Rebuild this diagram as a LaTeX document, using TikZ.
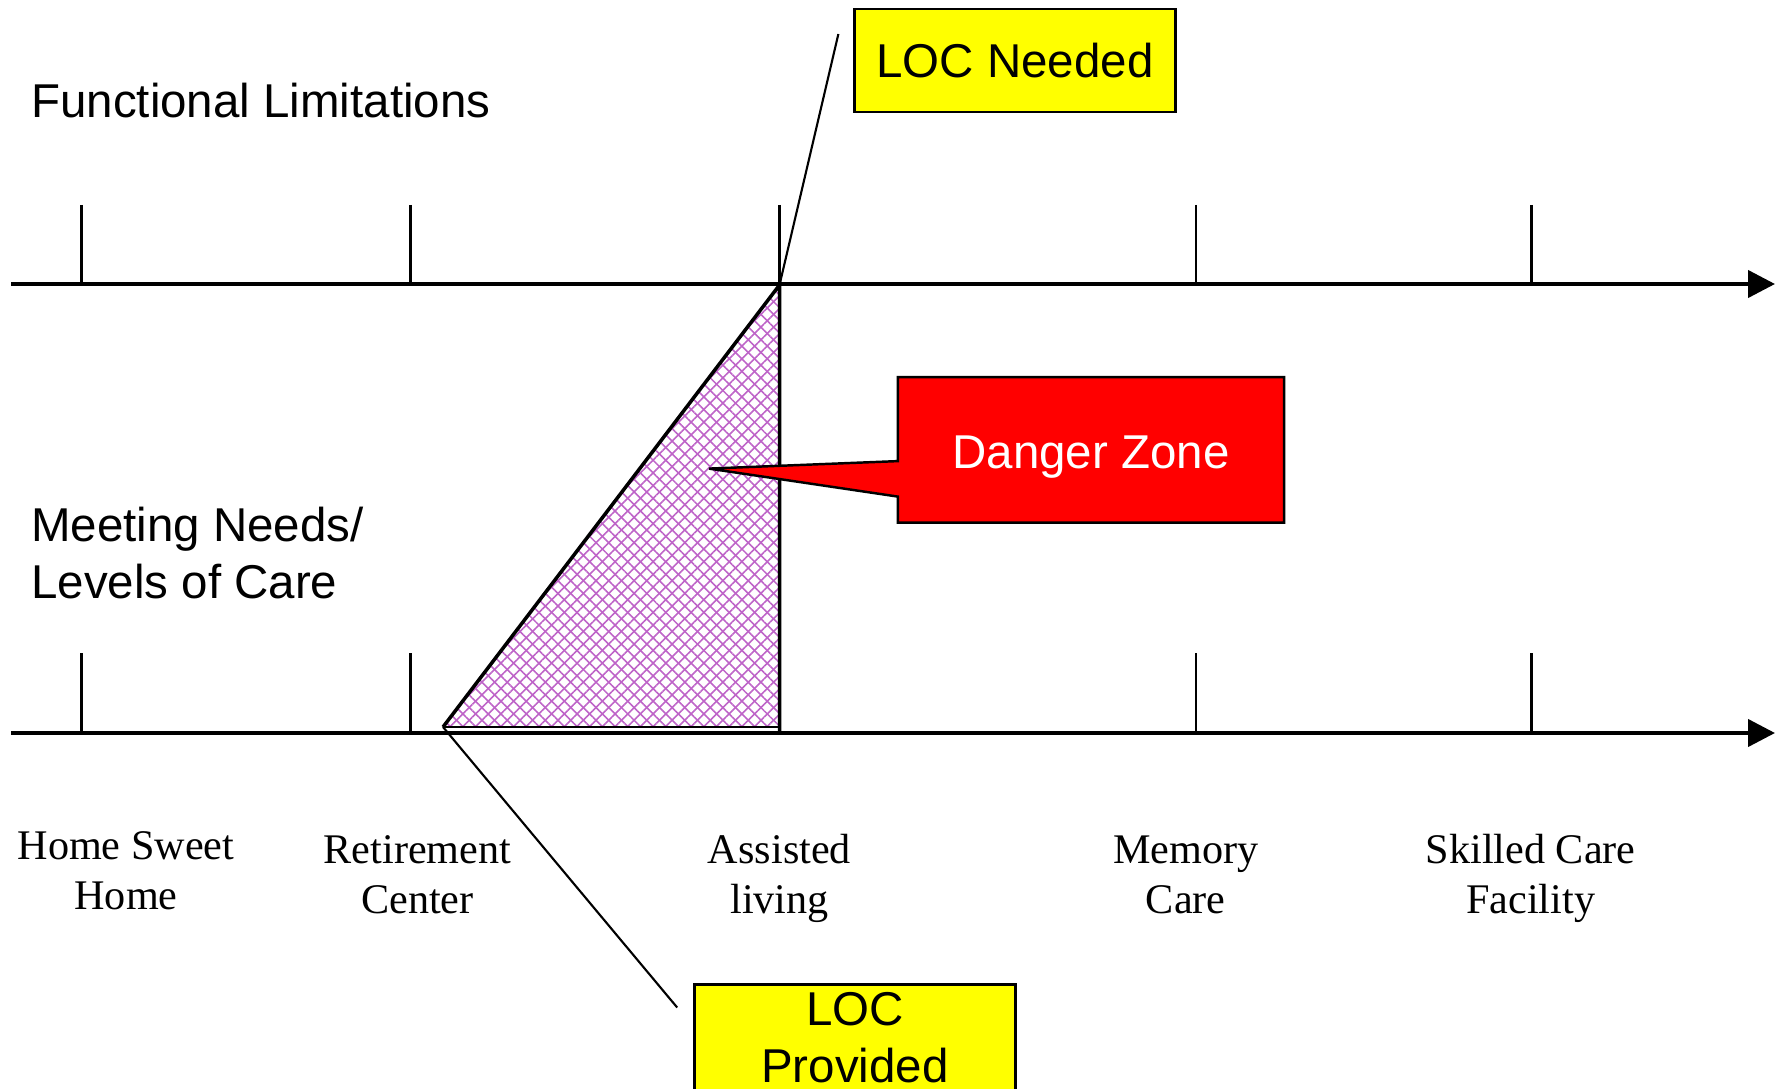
\documentclass[tikz,border=0pt]{standalone}
\usepackage{fontspec}
\setmainfont{Liberation Serif}
\newfontfamily\arialfont{Liberation Sans}
\usetikzlibrary{arrows.meta,patterns.meta,calc}
\definecolor{hatchviolet}{RGB}{190,100,200}
\definecolor{locyellow}{RGB}{255,255,0}
\definecolor{dangerred}{RGB}{255,0,0}
\begin{document}
\begin{tikzpicture}[x=0.01cm,y=-0.01cm,
  axisline/.style={line width=1.2pt,-{Triangle[length=0.27cm,width=0.27cm]}},
  tickline/.style={line width=0.7pt},
  sans/.style={font=\arialfont\fontsize{13.5}{16.2}\selectfont},
  serif/.style={font=\fontsize{12}{14.2}\selectfont, align=center, anchor=base, inner sep=0pt},
  yellowbox/.style={sans, draw, line width=0.7pt, fill=locyellow, minimum width=3.21cm, inner sep=0pt, align=center},
  dangerbox/.style={minimum width=3.847cm, minimum height=1.441cm, inner sep=0pt},
  leader/.style={line width=0.6pt}]
\useasboundingbox (0,0) rectangle (1779,1088);
\draw[axisline] (11,284) -- (1775,284);
\draw[axisline] (11,733) -- (1775,733);
\foreach \x in {81.7,410.7,779.5,1195.8,1531.7} {
  \draw[tickline] (\x,205) -- (\x,284);
  \draw[tickline] (\x,653) -- (\x,733);
}
\node[sans, anchor=base west, inner sep=0pt] (fl) at (30.6,118) {Functional Limitations};
\node[sans, anchor=base west, inner sep=0pt, align=left] (mn) at (30.6,598) {Meeting Needs/\\Levels of Care};
\coordinate (ta) at (779.5,285);
\coordinate (tb) at (443,727);
\coordinate (tc) at (779.5,727);
\foreach \ang in {45,-45}
  \fill[pattern={Lines[angle=\ang,distance=2.55pt,line width=0.45pt]}, pattern color=hatchviolet] (ta) -- (tb) -- (tc) -- cycle;
\draw[line width=0.4pt] (tb) -- (tc);
\draw[line width=1pt] (tb) -- (ta) -- (779.5,733);
\node[yellowbox, minimum height=1.03cm] (need) at (1015,60.7) {LOC Needed};
\node[yellowbox, minimum height=1.068cm] (prov) at (855,1038) {LOC\\Provided};
\coordinate (needend) at ([shift={(-14.8,-26.7)}]need.west);
\draw[leader] (ta) -- (needend);
\coordinate (provend) at ([shift={(-16,-30.5)}]prov.west);
\draw[leader] (tb) -- (provend);
\node[dangerbox] (dz) at (1091,449.9) {};
\coordinate (dztip) at (709,468.6);
\filldraw[fill=dangerred, line width=0.7pt] (dz.north west) -- (dz.north east) -- (dz.south east) -- (dz.south west) -- ($(dz.south west)+(0,-26.1)$) -- (dztip) -- ($(dz.north west)+(0,84)$) -- cycle;
\node[sans, text=white] (dzlbl) at ([shift={(0,7)}]dz.center) {Danger Zone};
\node[serif] (home) at (126,909) {Home Sweet\\Home};
\node[serif] (ret) at (417.5,913.7) {Retirement\\Center};
\node[serif] (asl) at (779.5,913.7) {Assisted\\living};
\node[serif] (mem) at (1185.7,913.7) {Memory\\Care};
\node[serif] (skc) at (1530.6,913.7) {Skilled Care\\Facility};
\end{tikzpicture}
\end{document}
